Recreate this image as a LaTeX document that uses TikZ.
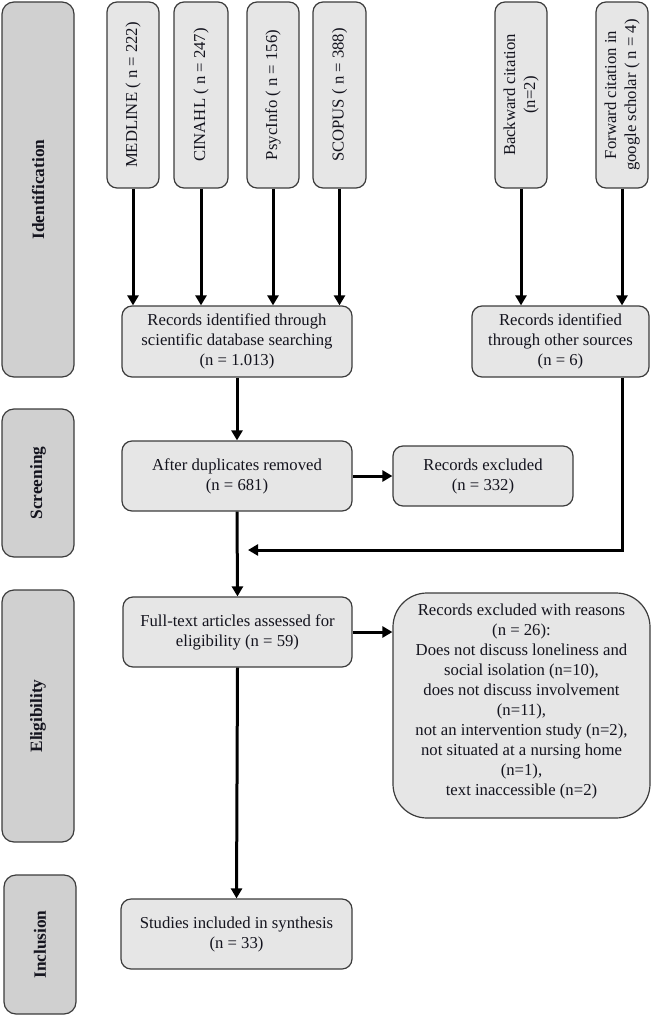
\documentclass[tikz,border=0pt]{standalone}
\usepackage{fontspec}
\setmainfont{Liberation Serif}
\usetikzlibrary{arrows.meta}
\definecolor{boxfill}{RGB}{230,230,230}
\definecolor{sidefill}{RGB}{208,208,208}
\definecolor{edge}{RGB}{60,60,60}
\definecolor{ink}{RGB}{20,20,30}
\tikzset{
  box/.style={draw=edge, line width=1.2pt, fill=boxfill, rounded corners=10pt,
    inner sep=0pt, text=ink, align=center, font=\fontsize{16.7}{20}\selectfont},
  sidebox/.style={draw=edge, line width=1.2pt, fill=sidefill, rounded corners=12pt,
    inner sep=0pt, text=ink, font=\fontsize{17.3}{20}\selectfont\bfseries},
  flow/.style={line width=3pt, draw=black, -{Triangle[length=10pt,width=11pt]}},
  flowline/.style={line width=3pt, draw=black}
}
\newcommand{\vlab}[1]{\rotatebox{90}{\begin{tabular}{@{}c@{}}#1\end{tabular}}}
\begin{document}
\begin{tikzpicture}[x=1pt,y=-1pt]
\useasboundingbox (0,0) rectangle (650,1016);
% side labels
\node[sidebox, minimum width=72pt, minimum height=375pt] (id) at (38,189.5) {\rotatebox{90}{Identification}};
\node[sidebox, minimum width=72pt, minimum height=148pt] (scr) at (38,483) {\rotatebox{90}{Screening}};
\node[sidebox, minimum width=72pt, minimum height=252pt] (eli) at (38,716) {\rotatebox{90}{Eligibility}};
\node[sidebox, minimum width=72pt, minimum height=139pt] (inc) at (40,944.5) {\rotatebox{90}{Inclusion}};
% sources
\node[box, minimum width=52pt, minimum height=186pt] (med) at (133,95) {\vlab{MEDLINE ( n = 222)}};
\node[box, minimum width=54pt, minimum height=186pt] (cin) at (201,95) {\vlab{CINAHL ( n = 247)}};
\node[box, minimum width=52pt, minimum height=186pt] (psy) at (273,95) {\vlab{PsycInfo ( n = 156)}};
\node[box, minimum width=53pt, minimum height=186pt] (sco) at (339.5,95) {\vlab{SCOPUS ( n = 388)}};
\node[box, minimum width=52pt, minimum height=186pt] (bwd) at (521,95) {\vlab{Backward citation\\(n=2)}};
\node[box, minimum width=52pt, minimum height=186pt] (fwd) at (622,95) {\vlab{Forward citation in\\google scholar ( n = 4)}};
% main flow
\node[box, minimum width=230pt, minimum height=71pt] (rdb) at (237,341.5) {Records identified through\\scientific database searching\\(n = 1.013)};
\node[box, minimum width=177pt, minimum height=71pt] (roth) at (560.5,341.5) {Records identified\\through other sources\\(n = 6)};
\node[box, minimum width=230pt, minimum height=70pt] (dup) at (237,476) {After duplicates removed\\(n = 681)};
\node[box, minimum width=180pt, minimum height=60pt] (exc) at (483,476) {Records excluded\\(n = 332)};
\node[box, minimum width=229pt, minimum height=70pt] (full) at (237.5,632) {Full-text articles assessed for\\eligibility (n = 59)};
\node[box, rounded corners=34pt, minimum width=257pt, minimum height=225pt] (rsn) at (521.5,705.5) {};
\node[text=ink, align=center, font=\fontsize{16.7}{20}\selectfont] (rsntxt) at (521.5,701.5) {Records excluded with reasons\\(n = 26):\\Does not discuss loneliness and\\social isolation (n=10),\\does not discuss involvement\\(n=11),\\not an intervention study (n=2),\\not situated at a nursing home\\(n=1),\\text inaccessible (n=2)};
\node[box, minimum width=231pt, minimum height=70pt] (stu) at (236.5,934) {Studies included in synthesis\\(n = 33)};
\coordinate (joinR) at (248,550);
% arrows
\draw[flow] (med.south) -- (med.south |- rdb.north);
\draw[flow] (cin.south) -- (cin.south |- rdb.north);
\draw[flow] (psy.south) -- (psy.south |- rdb.north);
\draw[flow] (sco.south) -- (sco.south |- rdb.north);
\draw[flow] (bwd.south) -- (bwd.south |- roth.north);
\draw[flow] (fwd.south) -- (fwd.south |- roth.north);
\draw[flow] (rdb.south) -- (dup.north);
\draw[flow] (dup.east) -- (exc.west);
\draw[flow] (dup.south) -- (full.north);
\draw[flow] (roth.south -| fwd.south) |- (joinR);
\draw[flow] (full.east) -- (rsn.west |- full.east);
\draw[flow] (full.south) -- (stu.north);
\end{tikzpicture}
\end{document}
